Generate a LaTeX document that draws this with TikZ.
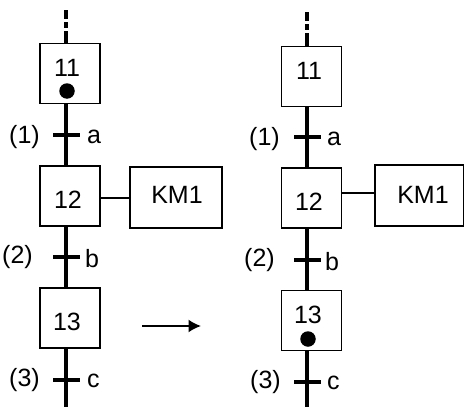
\documentclass[tikz,border=0pt]{standalone}
\usepackage{fontspec}
\setmainfont{Liberation Sans}
\usetikzlibrary{arrows.meta}
\begin{document}
\begin{tikzpicture}[x=1pt,y=-1pt,font=\fontsize{25}{28}\selectfont,
  stepbox/.style={draw,line width=1.6pt,minimum width=60pt,minimum height=60pt,inner sep=0pt},
  actbox/.style={draw,line width=1.6pt,minimum height=61pt,inner sep=0pt},
  txt/.style={inner sep=0pt},
  dotmark/.style={circle,fill,minimum size=15.5pt,inner sep=0pt},
  tbar/.style={fill,minimum width=27pt,minimum height=4.5pt,inner sep=0pt},
  link/.style={line width=3.3pt},
  upstream/.style={line width=3.3pt,dash pattern=on 9pt off 3pt on 6pt off 3pt on 20pt off 3pt},
  fineline/.style={line width=1.8pt},
  bigtip/.style={-{Latex[length=12.5pt,width=13pt]}}]
\useasboundingbox (0,0) rectangle (464,407);
% ---------------- left ----------------
\coordinate (Lx) at (66,0);
\coordinate (Ltop) at (66,10);
\coordinate (Lbot) at (66,407);
\node[stepbox] (L11) at (70,73.5) {};
\node[txt] (L11t) at (67,68) {11};
\node[dotmark] (L11d) at (67,91) {};
\node[stepbox] (L12) at (70,196) {};
\node[txt] (L12t) at (68,200) {12};
\node[actbox,minimum width=92pt] (LKM) at (176,197.5) {};
\node[txt] (LKMt) at (177,194.5) {KM1};
\node[stepbox] (L13) at (70,318) {};
\node[txt] (L13t) at (67,321.5) {13};
\node[tbar] (LT1) at (66,135) {};
\node[tbar] (LT2) at (66,257) {};
\node[tbar] (LT3) at (66,380) {};
\node[txt,anchor=east] (LT1n) at (40,137.5) {(1)};
\node[txt,anchor=west] (LT1c) at (87,137) {a};
\node[txt,anchor=east] (LT2n) at (33,257) {(2)};
\node[txt,anchor=west] (LT2c) at (85,258.5) {b};
\node[txt,anchor=east] (LT3n) at (40,380.5) {(3)};
\node[txt,anchor=west] (LT3c) at (87,381) {c};
\draw[upstream] (Ltop) -- (L11.north -| Lx);
\draw[link] (L11.south -| Lx) -- (L12.north -| Lx);
\draw[link] (L12.south -| Lx) -- (L13.north -| Lx);
\draw[link] (L13.south -| Lx) -- (Lbot);
\draw[fineline] (LKM.west |- 0,198) -- (L12.east |- 0,198);
% ---------------- arrow ----------------
\coordinate (A1) at (142,326);
\coordinate (A2) at (201,326);
\draw[fineline,bigtip] (A1) -- (A2);
% ---------------- right ----------------
\coordinate (Rx) at (307,0);
\coordinate (Rtop) at (307,12);
\coordinate (Rbot) at (307,407);
\node[stepbox] (R11) at (311.5,76.5) {};
\node[txt] (R11t) at (309,70.5) {11};
\node[stepbox] (R12) at (311.5,198) {};
\node[txt] (R12t) at (309,202) {12};
\node[actbox,minimum width=88.5pt] (RKM) at (419.25,195.5) {};
\node[txt] (RKMt) at (423,194.5) {KM1};
\node[stepbox] (R13) at (311.5,320.5) {};
\node[txt] (R13t) at (308,315) {13};
\node[dotmark] (R13d) at (308,339) {};
\node[tbar] (RT1) at (307,137) {};
\node[tbar] (RT2) at (307,260) {};
\node[tbar] (RT3) at (307,382) {};
\node[txt,anchor=east] (RT1n) at (280,139) {(1)};
\node[txt,anchor=west] (RT1c) at (327,139) {a};
\node[txt,anchor=east] (RT2n) at (275,260) {(2)};
\node[txt,anchor=west] (RT2c) at (325,261.5) {b};
\node[txt,anchor=east] (RT3n) at (281,382.5) {(3)};
\node[txt,anchor=west] (RT3c) at (327,383) {c};
\draw[upstream] (Rtop) -- (R11.north -| Rx);
\draw[link] (R11.south -| Rx) -- (R12.north -| Rx);
\draw[link] (R12.south -| Rx) -- (R13.north -| Rx);
\draw[link] (R13.south -| Rx) -- (Rbot);
\draw[fineline] (RKM.west |- 0,193) -- (R12.east |- 0,193);
\end{tikzpicture}
\end{document}
